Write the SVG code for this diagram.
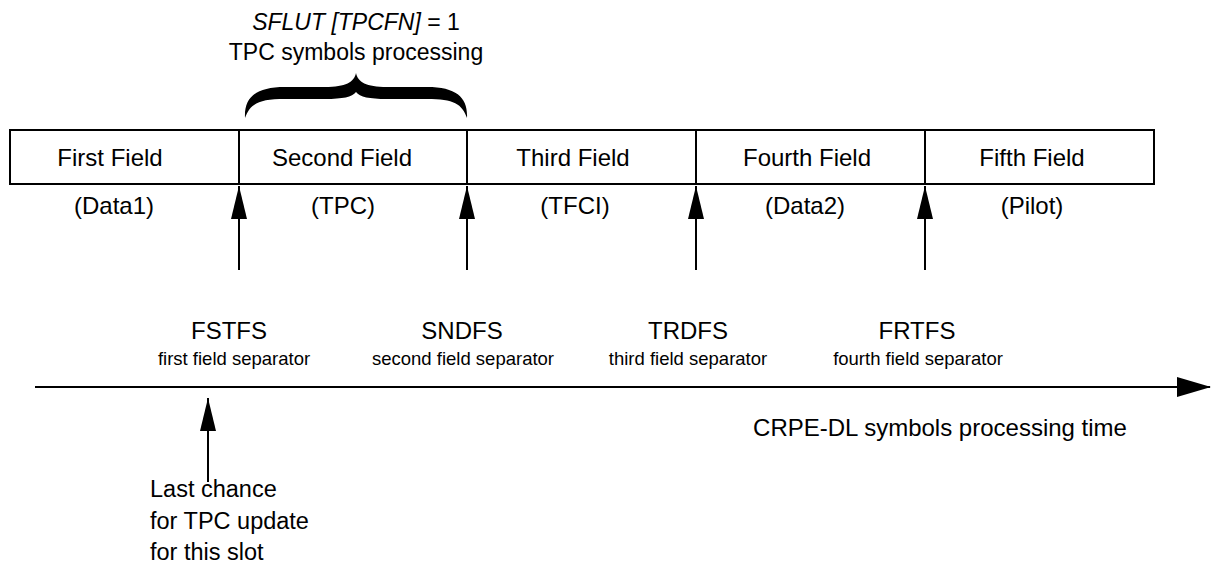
<svg xmlns="http://www.w3.org/2000/svg" width="1211" height="563" viewBox="0 0 1211 563">
<style>
text{font-family:"Liberation Sans",Arial,sans-serif;fill:#000}
.f{font-size:24px;text-anchor:middle}
.t{font-size:23px;text-anchor:middle}
.s{font-size:18.5px;text-anchor:middle}
.l{font-size:23.5px}
.ln{stroke:#000;stroke-width:2;fill:none}
</style>
<defs>
<marker id="ah" markerUnits="userSpaceOnUse" markerWidth="18" markerHeight="34" viewBox="0 0 18 34" refX="9" refY="0" orient="0">
<path d="M9,0 L17,33 L1,33 Z" fill="#000"/>
</marker>
<marker id="ar" markerUnits="userSpaceOnUse" markerWidth="34" markerHeight="22" viewBox="0 0 34 22" refX="33" refY="11" orient="0">
<path d="M34,11 L0,1 L0,21 Z" fill="#000"/>
</marker>
</defs>
<g id="title">
<text class="t" x="356" y="30"><tspan font-style="italic">SFLUT [TPCFN]</tspan> = 1</text>
<text class="t" x="356" y="60">TPC symbols processing</text>
<path d="M245,118 C244,98 255,87 285,87 L325,87 C346,87 354,82 356,73 C358,82 366,87 387,87 L427,87 C457,87 468,98 467,118 C462,104 454,99 427,99 L387,99 C369,99 360,97 356,92 C352,97 343,99 325,99 L285,99 C258,99 250,104 245,118 Z" fill="#000"/>
</g>
<g id="fields">
<rect x="10" y="130" width="1144" height="54" class="ln"/>
<line x1="239" y1="130" x2="239" y2="184" class="ln"/>
<line x1="467" y1="130" x2="467" y2="184" class="ln" stroke-width="3"/>
<line x1="696" y1="130" x2="696" y2="184" class="ln"/>
<line x1="925" y1="130" x2="925" y2="184" class="ln"/>
</g>
<g id="field1"><text class="f" x="110" y="166">First Field</text><text class="f" x="114" y="214">(Data1)</text></g>
<g id="field2"><text class="f" x="342" y="166">Second Field</text><text class="f" x="343" y="214">(TPC)</text></g>
<g id="field3"><text class="f" x="573" y="166">Third Field</text><text class="f" x="575" y="214">(TFCI)</text></g>
<g id="field4"><text class="f" x="807" y="166">Fourth Field</text><text class="f" x="805" y="214">(Data2)</text></g>
<g id="field5"><text class="f" x="1032" y="166">Fifth Field</text><text class="f" x="1032" y="214">(Pilot)</text></g>
<g id="sep1"><text class="f" x="229" y="339">FSTFS</text><text class="s" x="234" y="365">first field separator</text></g>
<g id="sep2"><text class="f" x="462" y="339">SNDFS</text><text class="s" x="463" y="365">second field separator</text></g>
<g id="sep3"><text class="f" x="688" y="339">TRDFS</text><text class="s" x="688" y="365">third field separator</text></g>
<g id="sep4"><text class="f" x="917" y="339">FRTFS</text><text class="s" x="918" y="365">fourth field separator</text></g>
<g id="timeline"><text class="f" x="940" y="436">CRPE-DL symbols processing time</text></g>
<g id="note">
<text class="l" x="150" y="497">Last chance</text>
<text class="l" x="150" y="529">for TPC update</text>
<text class="l" x="150" y="560">for this slot</text>
</g>
<g id="connectors">
<line x1="239" y1="270" x2="239" y2="186" class="ln" marker-end="url(#ah)"/>
<line x1="467" y1="270" x2="467" y2="186" class="ln" marker-end="url(#ah)"/>
<line x1="696" y1="270" x2="696" y2="186" class="ln" marker-end="url(#ah)"/>
<line x1="925" y1="270" x2="925" y2="186" class="ln" marker-end="url(#ah)"/>
<line x1="35" y1="387" x2="1210" y2="387" class="ln" stroke-width="3" marker-end="url(#ar)"/>
<line x1="208" y1="482" x2="208" y2="398" class="ln" marker-end="url(#ah)"/>
</g>
</svg>
